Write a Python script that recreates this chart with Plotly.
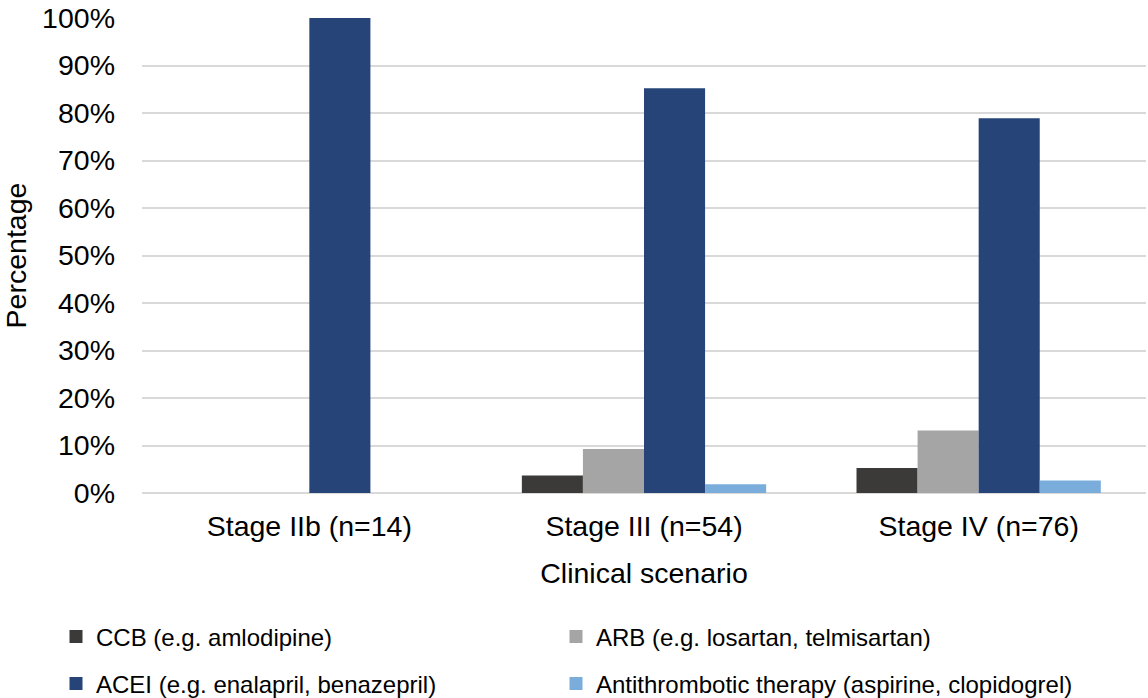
import plotly.graph_objects as go

categories = ["Stage IIb (n=14)", "Stage III (n=54)", "Stage IV (n=76)"]
series_names = [
    "CCB (e.g. amlodipine)",
    "ARB (e.g. losartan, telmisartan)",
    "ACEI (e.g. enalapril, benazepril)",
    "Antithrombotic therapy (aspirine, clopidogrel)",
]
ccb = [0.0, 0.037, 0.0526]
arb = [0.0, 0.0926, 0.1316]
acei = [1.0, 0.852, 0.789]
antithrombotic = [0.0, 0.0185, 0.0263]
series_values = [ccb, arb, acei, antithrombotic]
colors = ["#3b3a38", "#a5a5a5", "#264478", "#7aaddc"]
y_ticks = [i / 10 for i in range(11)]
y_tick_labels = [f"{i * 10}%" for i in range(11)]

font_family = "Liberation Sans, Arial, sans-serif"
axis_font = 28.5
legend_font = 24
W, H = 1148, 698

# one legend box per entry, laid out as a 2x2 grid below the axis
legend_ids = ["legend", "legend2", "legend3", "legend4"]
legend_left = [56, 556, 56, 556]
legend_mid_y = [637, 637, 684, 684]

fig = go.Figure()
for name, vals, col in zip(series_names, series_values, colors):
    fig.add_trace(go.Bar(
        x=categories, y=vals, name=name, showlegend=False,
        marker=dict(color=col, line=dict(width=0)),
    ))
# square swatches for the legend entries
for name, col, lg in zip(series_names, colors, legend_ids):
    fig.add_trace(go.Scatter(
        x=[None], y=[None], mode="markers", name=name, legend=lg,
        marker=dict(symbol="square", size=13, color=col),
        hoverinfo="skip",
    ))

legend_layout = {}
for lg, lx, ly in zip(legend_ids, legend_left, legend_mid_y):
    legend_layout[lg] = dict(
        orientation="h", xref="container", yref="container",
        x=lx / W, xanchor="left", y=(H - ly) / H, yanchor="middle",
        itemsizing="trace",
        font=dict(size=legend_font, family=font_family, color="#000000"),
        bgcolor="rgba(0,0,0,0)", borderwidth=0,
    )

fig.update_layout(
    width=W, height=H,
    margin=dict(l=142, r=2, t=18, b=204.5, autoexpand=False),
    paper_bgcolor="white", plot_bgcolor="white",
    barmode="group", bargap=0.27, bargroupgap=0,
    font=dict(family=font_family, size=axis_font, color="#000000"),
    xaxis=dict(
        title=dict(text="Clinical scenario", standoff=22, font=dict(size=axis_font)),
        showgrid=False, showline=False, ticks="",
        tickfont=dict(size=axis_font), ticklabelstandoff=13,
    ),
    yaxis=dict(
        title=dict(text="Percentage", standoff=12, font=dict(size=axis_font)),
        range=[0, 1], tickvals=y_ticks, ticktext=y_tick_labels,
        showgrid=True, gridcolor="#d9d9d9", gridwidth=1.6,
        zeroline=True, zerolinecolor="#d9d9d9", zerolinewidth=1.6,
        ticks="", tickfont=dict(size=axis_font), ticklabelstandoff=26,
    ),
    showlegend=True,
    **legend_layout,
)

fig.write_html("out.html")
